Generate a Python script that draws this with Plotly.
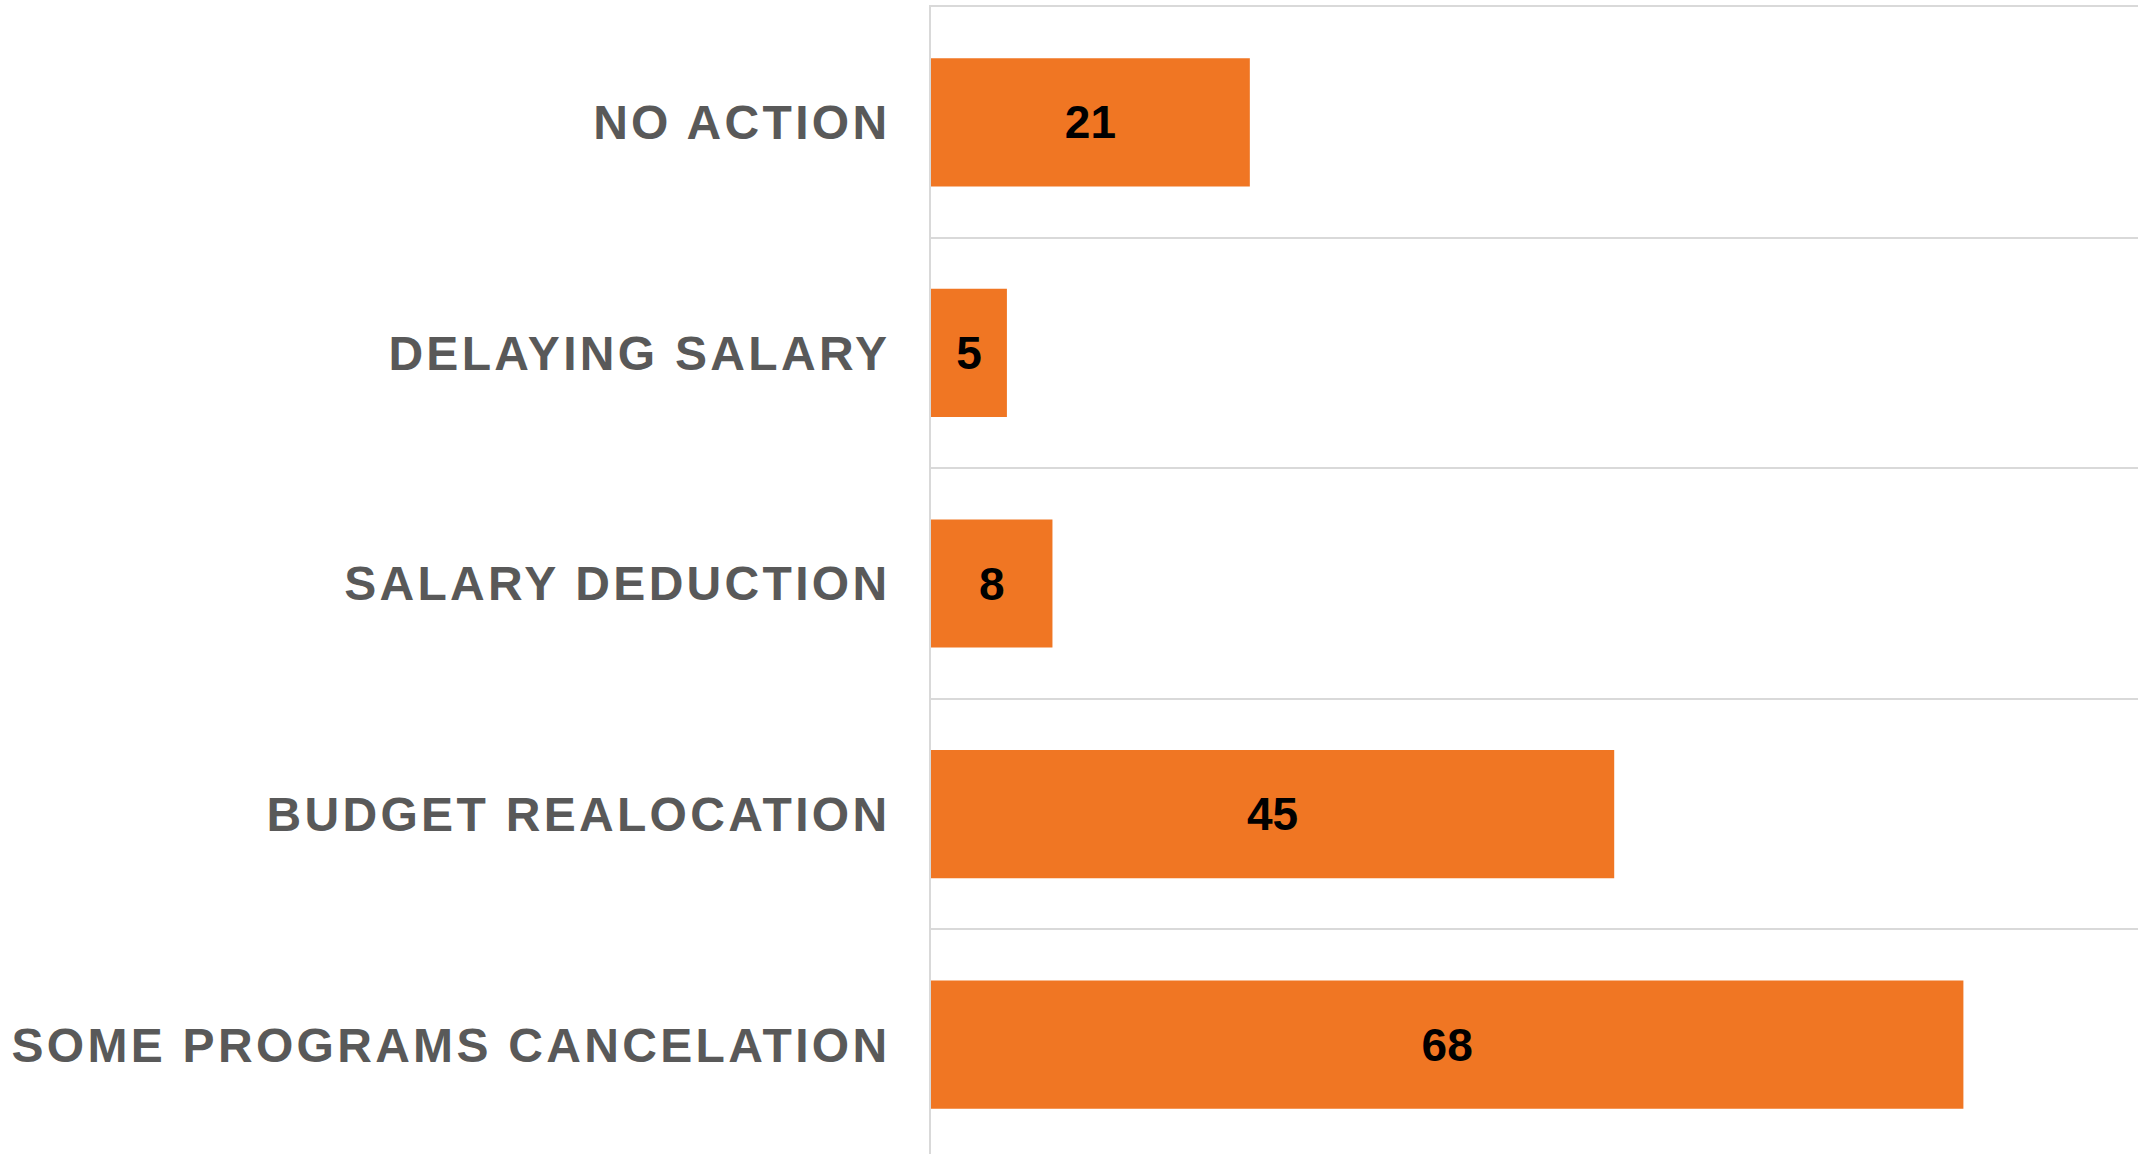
import plotly.graph_objects as go

# bottom-to-top order (Plotly draws category 0 at the bottom)
actions = [
    "SOME PROGRAMS CANCELATION",
    "BUDGET REALOCATION",
    "SALARY DEDUCTION",
    "DELAYING SALARY",
    "NO ACTION",
]
counts = [68, 45, 8, 5, 21]

BAR_COLOR = "#F07623"
GRID_COLOR = "#D9D9D9"
LABEL_GREY = "#595959"
FONT = "Liberation Sans, Arial, sans-serif"

fig = go.Figure(
    go.Bar(
        x=counts,
        y=actions,
        orientation="h",
        marker_color=BAR_COLOR,
        marker_line_width=0,
        text=[str(c) for c in counts],
        textposition="inside",
        insidetextanchor="middle",
        textangle=0,
        constraintext="none",
        textfont=dict(family=FONT, size=46, color="black", weight="bold"),
        hoverinfo="skip",
    )
)

# a few px taller than the window: the lowest band runs off the page bottom,
# as in the reference (the overflow is hidden below)
fig.update_layout(
    width=2138,
    height=1160,
    margin=dict(l=931, r=0, t=7, b=0),
    paper_bgcolor="white",
    plot_bgcolor="white",
    bargap=0.444,
    showlegend=False,
)

# top border = mirrored x-axis line (its bottom twin is off-page)
fig.update_xaxes(
    range=[0, 79.5],
    showgrid=False,
    zeroline=False,
    showticklabels=False,
    showline=True,
    mirror=True,
    linecolor=GRID_COLOR,
    linewidth=2,
)

fig.update_yaxes(
    type="category",
    categoryorder="array",
    categoryarray=actions,
    range=[-0.5, 4.5],
    tickson="boundaries",
    showgrid=True,
    gridcolor=GRID_COLOR,
    gridwidth=2,
    ticks="",
    showline=True,
    linecolor=GRID_COLOR,
    linewidth=2,
    ticklabelstandoff=29,
    tickfont=dict(family=FONT, size=48, color=LABEL_GREY, weight="bold"),
)

# page without the default body margin, and letter-spaced category labels
page_js = (
    "document.body.style.margin='0';"
    "document.body.style.overflow='hidden';"
    "document.querySelectorAll('.ytick text')"
    ".forEach(function(t){t.style.letterSpacing='3.3px';});"
)

fig.write_html("out.html", post_script=page_js, config={"displayModeBar": False})
